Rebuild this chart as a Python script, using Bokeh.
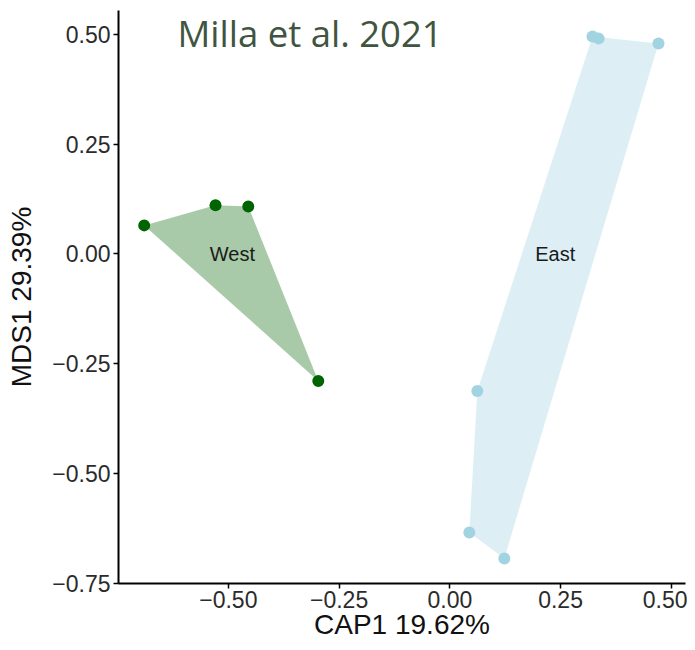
from bokeh.plotting import figure
from bokeh.models import Range1d, FixedTicker, Label
from bokeh.core.properties import value
from bokeh.embed import file_html
from bokeh.resources import INLINE

# ---- data ----
west_x = [-0.690, -0.529, -0.455, -0.297]
west_y = [0.065, 0.111, 0.108, -0.289]
east_x = [0.322, 0.336, 0.471, 0.062, 0.044, 0.123]
east_y = [0.495, 0.490, 0.479, -0.312, -0.634, -0.693]

group_names = ["West", "East"]
label_x = [-0.491, 0.238]
label_y = [0.0, 0.0]

x_ticks = [-0.5, -0.25, 0.0, 0.25, 0.5]
x_tick_labels = ["\u22120.50", "\u22120.25", "0.00", "0.25", "0.50"]
y_ticks = [-0.75, -0.5, -0.25, 0.0, 0.25, 0.5]
y_tick_labels = ["\u22120.75", "\u22120.50", "\u22120.25", "0.00", "0.25", "0.50"]


def convex_hull(xs, ys):
    pts = sorted(zip(xs, ys))

    def cross(o, a, b):
        return (a[0] - o[0]) * (b[1] - o[1]) - (a[1] - o[1]) * (b[0] - o[0])

    lower = []
    for p_ in pts:
        while len(lower) >= 2 and cross(lower[-2], lower[-1], p_) <= 0:
            lower.pop()
        lower.append(p_)
    upper = []
    for p_ in reversed(pts):
        while len(upper) >= 2 and cross(upper[-2], upper[-1], p_) <= 0:
            upper.pop()
        upper.append(p_)
    hull = lower[:-1] + upper[:-1]
    return [h[0] for h in hull], [h[1] for h in hull]


p = figure(width=687, height=642,
           x_range=Range1d(-0.748, 0.532), y_range=Range1d(-0.75, 0.554),
           output_backend="svg", toolbar_location=None,
           min_border_top=10, min_border_right=2, min_border_left=118,
           min_border_bottom=0)
p.outline_line_color = None
p.grid.visible = False
p.background_fill_color = "white"

wx, wy = convex_hull(west_x, west_y)
ex, ey = convex_hull(east_x, east_y)
p.patch(wx, wy, fill_color="#006400", fill_alpha=0.34, line_color=None)
p.patch(ex, ey, fill_color="#add8e6", fill_alpha=0.42, line_color=None)

p.scatter(west_x, west_y, size=12, fill_color="#006400", line_color=None)
p.scatter(east_x, east_y, size=12, fill_color="#a2d3e1", line_color=None)

p.text(x=label_x, y=label_y, text=group_names, text_align="center",
       text_baseline="middle", text_font=value("Liberation Sans"),
       text_font_size="20px", text_color="#1a1a1a")

p.add_layout(Label(x=-0.615, y=0.503, text="Milla et al. 2021",
                   text_font="Open Sans", text_font_size="36.5px",
                   text_color="#405440", text_baseline="alphabetic"))

for ax, ticks, labs, title in ((p.xaxis[0], x_ticks, x_tick_labels, "CAP1 19.62%"),
                               (p.yaxis[0], y_ticks, y_tick_labels, "MDS1 29.39%")):
    ax.ticker = FixedTicker(ticks=ticks)
    ax.major_label_overrides = {t: l for t, l in zip(ticks, labs)}
    ax.axis_label = title
    ax.axis_label_text_font = "Liberation Sans"
    ax.axis_label_text_font_style = "normal"
    ax.axis_label_text_font_size = "28px"
    ax.axis_label_text_color = "#111111"
    ax.major_label_text_font = "Liberation Sans"
    ax.major_label_text_font_size = "23px"
    ax.major_label_text_color = "#2b2b2b"
    ax.axis_line_color = "black"
    ax.axis_line_width = 2
    ax.major_tick_line_color = "black"
    ax.major_tick_line_width = 1.5
    ax.major_tick_out = 5
    ax.major_tick_in = 0
    ax.minor_tick_out = 0
    ax.minor_tick_in = 0

p.xaxis[0].axis_label_standoff = -2
p.xaxis[0].major_label_standoff = 2
p.yaxis[0].axis_label_standoff = 12
p.yaxis[0].major_label_standoff = 3

open("out.html", "w").write(file_html(p, INLINE))
